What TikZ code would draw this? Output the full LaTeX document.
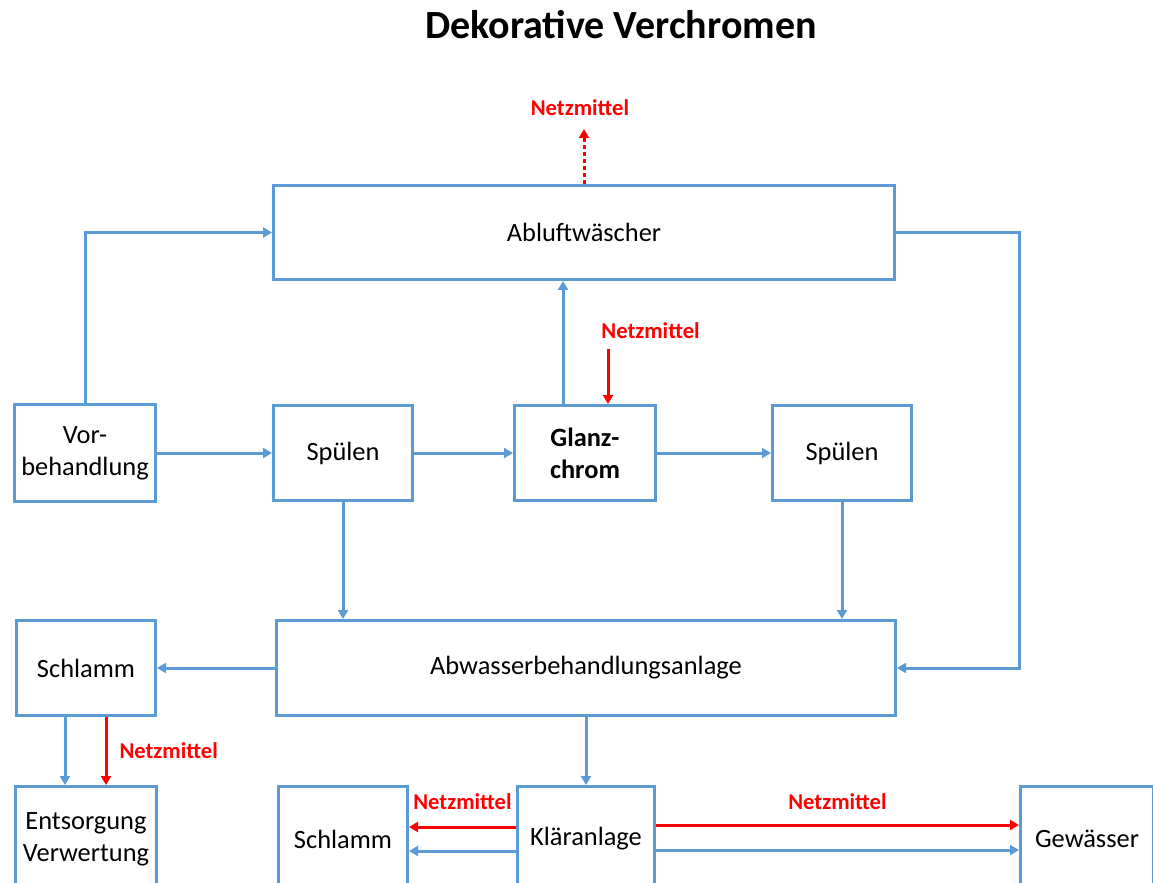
\documentclass[tikz,border=0pt]{standalone}
\usepackage{fontspec}
\setmainfont{Carlito}
\usetikzlibrary{arrows.meta, positioning}
\definecolor{pipe}{HTML}{5B9BD5}
\definecolor{alarm}{HTML}{FF0000}

\begin{document}
\begin{tikzpicture}[
  box/.style={draw=pipe, line width=1.6pt, align=center, font=\fontsize{13.2}{16}\selectfont, minimum width=69.4pt, minimum height=47.4pt, inner sep=2pt},
  wide/.style={box, minimum width=310.4pt},
  low/.style={box, minimum height=52.4pt},
  flow/.style={->, draw=pipe, line width=1.5pt},
  agent/.style={->, draw=alarm, line width=1.5pt},
  tag/.style={font=\fontsize{11.3}{13}\selectfont\bfseries, text=alarm, inner sep=1pt},
  >={Triangle[length=4.5pt, width=5pt]}
]
\useasboundingbox (0,0) rectangle (576.5pt,-441.5pt);
\node[font=\fontsize{20}{24}\selectfont\bfseries] (title) at (310.5pt,-12.5pt) {Dekorative Verchromen};

\node[box, minimum width=70.4pt, minimum height=48.4pt] (vor) at (42.5pt,-226.5pt) {Vor-\\behandlung};
\node[box, right=57.5pt of vor] (sp1) {Spülen};
\node[box, right=49.5pt of sp1, minimum width=70.4pt, font=\fontsize{13.2}{16}\selectfont\bfseries] (glanz) {Glanz-\\chrom};
\node[box, right=57pt of glanz] (sp2) {Spülen};
\node[wide, minimum height=46.9pt, above=61.5pt of sp1.north west, anchor=south west] (ablu) {Abluftwäscher};
\node[wide, minimum width=309.4pt, below=58.5pt of sp1.south west, anchor=north west, xshift=1.5pt] (abw) {Abwasserbehandlungsanlage};

\node[box, left=59pt of abw] (schl1) {Schlamm};
\node[low, minimum width=70.4pt, below=34pt of schl1] (ents) {Entsorgung\\Verwertung};
\node[low, minimum width=68.4pt, below=34pt of abw] (klaer) {Kläranlage};
\node[low, minimum width=64.4pt, left=53.5pt of klaer] (schl2) {Schlamm};
\node[low, minimum width=66.4pt, right=181.5pt of klaer] (gew) {Gewässer};

% Luft
\draw[flow] (vor.north) |- (ablu.west);
\draw[flow] ([xshift=-11pt]glanz.north) -- ([xshift=-11pt]glanz.north |- ablu.south);
\draw[flow] (ablu.east) -- ++(61.5pt,0) |- (abw.east);
\coordinate[above=27.5pt of ablu.north] (nz0);
\draw[agent, dash pattern=on 2pt off 1.5pt] (ablu.north) -- (nz0);
\node[tag, above=5.5pt of nz0, xshift=-2pt] (nz0lab) {Netzmittel};

% Linie
\draw[flow] (vor) -- (sp1);
\draw[flow] (sp1) -- (glanz);
\draw[flow] (glanz) -- (sp2);
\coordinate[above=27.5pt of glanz.north, xshift=11.5pt] (nz1);
\draw[agent] (nz1) -- (nz1 |- glanz.north);
\node[tag, above right=4pt and -4.5pt of nz1] (nz1lab) {Netzmittel};

% Abwasser
\draw[flow] (sp1) -- (sp1 |- abw.north);
\draw[flow] (sp2) -- (sp2 |- abw.north);
\draw[flow] (abw) -- (schl1);
\draw[flow] ([xshift=-10.5pt]schl1.south) -- ([xshift=-10.5pt]schl1.south |- ents.north);
\draw[agent] ([xshift=10pt]schl1.south) -- node[tag, right=5pt] (nz2lab) {Netzmittel} ([xshift=10pt]schl1.south |- ents.north);
\draw[flow] (abw) -- (klaer);
\draw[agent] ([yshift=6pt]klaer.west) -- node[tag, above=7pt] (nz3lab) {Netzmittel} ([yshift=6pt]klaer.west -| schl2.east);
\draw[flow] ([yshift=-6pt]klaer.west) -- ([yshift=-6pt]klaer.west -| schl2.east);
\draw[agent] ([yshift=7pt]klaer.east) -- node[tag, above=6pt] (nz4lab) {Netzmittel} ([yshift=7pt]klaer.east -| gew.west);
\draw[flow] ([yshift=-5.5pt]klaer.east) -- ([yshift=-5.5pt]klaer.east -| gew.west);
\end{tikzpicture}
\end{document}
